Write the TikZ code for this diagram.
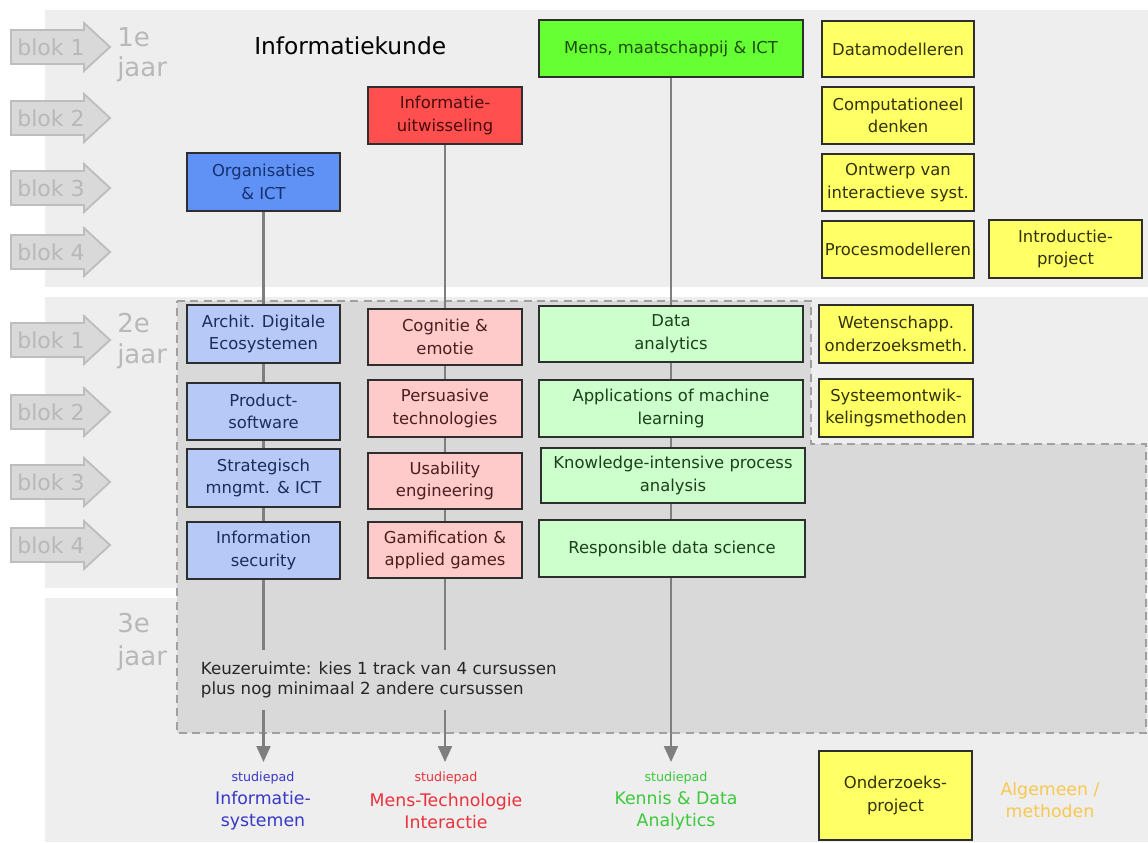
\documentclass[tikz,border=0pt]{standalone}
\usepackage{fontspec}
\setmainfont{DejaVu Sans}
\usetikzlibrary{arrows.meta}
\definecolor{band}{HTML}{EEEEEE}
\definecolor{region}{HTML}{D9D9D9}
\definecolor{regionline}{HTML}{A0A0A0}
\definecolor{blokfill}{HTML}{D9D9D9}
\definecolor{blokline}{HTML}{BDBDBD}
\definecolor{bloktxt}{HTML}{B8B8B8}
\definecolor{conncol}{HTML}{7F7F7F}
\definecolor{boxline}{HTML}{2E2E2E}
\definecolor{orgfill}{HTML}{6092F5}
\definecolor{orgtxt}{HTML}{14306E}
\definecolor{redfill}{HTML}{FF4F4F}
\definecolor{redtxt}{HTML}{4A0A0A}
\definecolor{grnfill}{HTML}{66FF33}
\definecolor{grntxt}{HTML}{1B4D0B}
\definecolor{yelfill}{HTML}{FFFF66}
\definecolor{yeltxt}{HTML}{33330A}
\definecolor{lbfill}{HTML}{B7C9F7}
\definecolor{lbtxt}{HTML}{1C2C5C}
\definecolor{pkfill}{HTML}{FFCACA}
\definecolor{pktxt}{HTML}{4A1E1E}
\definecolor{lgfill}{HTML}{CCFFCC}
\definecolor{lgtxt}{HTML}{1C401C}
\definecolor{pathblue}{HTML}{3838C8}
\definecolor{pathred}{HTML}{E8323C}
\definecolor{pathgreen}{HTML}{3CC83C}
\definecolor{algcol}{HTML}{F8C850}
\pgfdeclarelayer{back}
\pgfdeclarelayer{mid}
\pgfsetlayers{back,mid,main}
\tikzset{
  box/.style={draw=boxline, line width=1.1pt, inner sep=1pt, align=center,
    font=\fontsize{12.3}{17}\selectfont},
  orgbox/.style={box, fill=orgfill, text=orgtxt},
  redbox/.style={box, fill=redfill, text=redtxt},
  grnbox/.style={box, fill=grnfill, text=grntxt},
  yelbox/.style={box, fill=yelfill, text=yeltxt},
  lbbox/.style={box, fill=lbfill, text=lbtxt},
  pkbox/.style={box, fill=pkfill, text=pktxt},
  lgbox/.style={box, fill=lgfill, text=lgtxt},
  blokshape/.style={fill=blokfill, draw=blokline, line width=1.4pt, line join=miter},
  bloktext/.style={text=bloktxt, inner sep=0pt, font=\fontsize{16.5}{18}\selectfont},
  yrtext/.style={text=bloktxt, inner sep=0pt, anchor=base west, font=\fontsize{19.5}{22}\selectfont},
  conn/.style={draw=conncol, line width=1.6pt, -{Triangle[width=10.5pt,length=12pt]}},
  spsmall/.style={inner sep=0pt, font=\fontsize{9.5}{11}\selectfont},
  spbig/.style={inner sep=0pt, align=center, font=\fontsize{13}{16.5}\selectfont},
}
\newcommand\cb[7]{\node[#6, minimum width={(#4-#2)*0.75pt}, minimum height={(#5-#3)*0.75pt}] (#1) at ({(#2+#4)/2},{(#3+#5)/2}) {#7};}
\newcommand\blokar[3]{%
  \draw[blokshape] (11,#2-17) -- (84,#2-17) -- (84,#2-24) -- (110,#2) -- (84,#2+24) -- (84,#2+17) -- (11,#2+17) -- cycle;
  \node[bloktext] (#1) at (51,#2) {#3};}
\begin{document}
\begin{tikzpicture}[x=0.75pt, y=-0.75pt]
\useasboundingbox (0,0) rectangle (1148,842);
\begin{pgfonlayer}{back}
  \fill[white] (0,0) rectangle (1148,842);
  \fill[band] (45,10) rectangle (1148,287);
  \fill[band] (45,297) rectangle (1148,588);
  \fill[band] (45,598) rectangle (1148,842);
  \filldraw[fill=region, draw=regionline, line width=1.5pt, dash pattern=on 6pt off 4pt]
    (177,301) -- (811,301) -- (811,444) -- (1146,444) -- (1146,733) -- (177,733) -- cycle;
\end{pgfonlayer}

% blok arrows
\blokar{b11}{47}{blok 1}
\blokar{b12}{118}{blok 2}
\blokar{b13}{188}{blok 3}
\blokar{b14}{252}{blok 4}
\blokar{b21}{340}{blok 1}
\blokar{b22}{412}{blok 2}
\blokar{b23}{482}{blok 3}
\blokar{b24}{545}{blok 4}

% year labels
\node[yrtext] (y1a) at (117,47) {1e};
\node[yrtext] (y1b) at (117,77) {jaar};
\node[yrtext] (y2a) at (117,332) {2e};
\node[yrtext] (y2b) at (117,363) {jaar};
\node[yrtext] (y3a) at (117,632) {3e};
\node[yrtext] (y3b) at (117,665) {jaar};

\node[anchor=base west, inner sep=0pt, font=\fontsize{17.5}{20}\selectfont] (title) at (254,55) {Informatiekunde};

% year 1
\cb{org}{187}{153}{340}{211}{orgbox}{Organisaties\\\& ICT}
\cb{iu}{368}{87}{522}{144}{redbox}{Informatie-\\uitwisseling}
\cb{mmi}{539}{20}{803}{77}{grnbox}{Mens, maatschappij \& ICT}
\cb{dm}{822}{21}{974}{77}{yelbox}{Datamodelleren}
\cb{cd}{822}{87}{974}{144}{yelbox}{Computationeel\\denken}
\cb{oi}{822}{154}{974}{211}{yelbox}{Ontwerp van\\interactieve syst.}
\cb{pm}{822}{221}{974}{278}{yelbox}{Procesmodelleren}
\cb{ip}{989}{220}{1142}{278}{yelbox}{Introductie-\\project}

% year 2
\cb{ade}{187}{305}{340}{363}{lbbox}{Archit. Digitale\\Ecosystemen}
\cb{ps}{187}{383}{340}{440}{lbbox}{Product-\\software}
\cb{smi}{187}{449}{340}{507}{lbbox}{Strategisch\\mngmt. \& ICT}
\cb{is}{187}{522}{340}{579}{lbbox}{Information\\security}
\cb{ce}{368}{309}{522}{365}{pkbox}{Cognitie \&\\emotie}
\cb{pt}{368}{380}{522}{437}{pkbox}{Persuasive\\technologies}
\cb{ue}{368}{453}{522}{509}{pkbox}{Usability\\engineering}
\cb{ga}{368}{522}{522}{578}{pkbox}{Gamification \&\\applied games}
\cb{da}{539}{306}{803}{362}{lgbox}{Data\\analytics}
\cb{aml}{539}{380}{803}{437}{lgbox}{Applications of machine\\learning}
\cb{kipa}{541}{448}{805}{503}{lgbox}{Knowledge-intensive process\\analysis}
\cb{rds}{539}{520}{805}{577}{lgbox}{Responsible data science}
\cb{wom}{819}{305}{973}{363}{yelbox}{Wetenschapp.\\onderzoeksmeth.}
\cb{som}{819}{379}{973}{437}{yelbox}{Systeemontwik-\\kelingsmethoden}
\cb{op}{819}{751}{972}{840}{yelbox}{Onderzoeks-\\project}

% year 3 text
\node[anchor=west, fill=region, inner xsep=2pt, inner ysep=9pt, align=left,
  text=black!85, font=\fontsize{12.5}{15}\selectfont] (keuze) at (198,680)
  {Keuzeruimte: kies 1 track van 4 cursussen\\plus nog minimaal 2 andere cursussen};

% connectors
\coordinate (e1) at (263.5,762);
\coordinate (e2) at (445,762);
\coordinate (e3) at (671,762);
\begin{pgfonlayer}{mid}
  \draw[conn] (org.south) -- (e1);
  \draw[conn] (iu.south) -- (e2);
  \draw[conn] (mmi.south) -- (e3);
\end{pgfonlayer}

% study paths
\node[spsmall, text=pathblue] (sp1) at (263,778) {studiepad};
\node[spbig, text=pathblue] (is1) at (263,811) {Informatie-\\systemen};
\node[spsmall, text=pathred] (sp2) at (446,778) {studiepad};
\node[spbig, text=pathred] (mti) at (446,811) {Mens-Technologie\\Interactie};
\node[spsmall, text=pathgreen] (sp3) at (676,778) {studiepad};
\node[spbig, text=pathgreen] (kda) at (676,811) {Kennis \& Data\\Analytics};
\node[spbig, text=algcol] (alg) at (1050,800) {Algemeen /\\methoden};
\end{tikzpicture}
\end{document}
